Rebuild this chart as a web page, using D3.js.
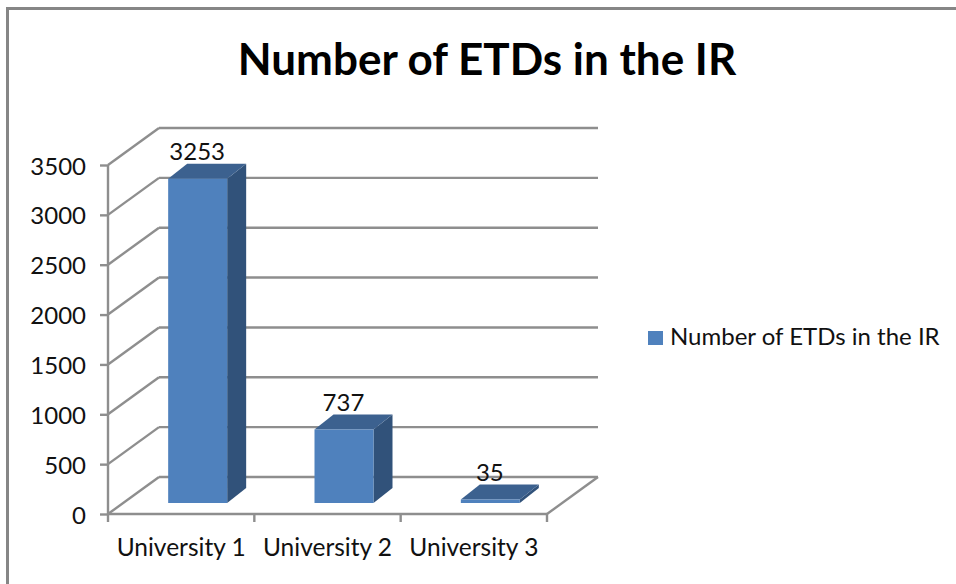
<!DOCTYPE html>
<html><head><meta charset="utf-8">
<script src="https://cdn.jsdelivr.net/npm/d3@7/dist/d3.min.js"></script>
<style>html,body{margin:0;padding:0;background:#fff}svg{display:block}text{font-family:Lato,"Open Sans",sans-serif;fill:#111}</style>
</head><body><script>
const categories = ["University 1","University 2","University 3"];
const values = [3253,737,35];
const seriesName = "Number of ETDs in the IR";
const yTicks = [0,500,1000,1500,2000,2500,3000,3500];
const title = "Number of ETDs in the IR";

const W=956,H=584, dx=51, dy=-37, bdx=19, bdy=-15, baseLift=11, barShift=16.5;
const grid="#8e8e8e", sw=2.4;
const svg=d3.select("body").append("svg").attr("width",W).attr("height",H);
svg.append("rect").attr("width",W).attr("height",H).attr("fill","#fff");
svg.append("path").attr("d",`M7.5,${H} V8.5 H${W}`).attr("fill","none").attr("stroke","#868686").attr("stroke-width",3);
svg.append("text").attr("x",487).attr("y",75).attr("text-anchor","middle").attr("font-size",44).attr("font-weight",700).attr("style","fill:#000").text(title);

const x=d3.scaleBand().domain(categories).range([108,547]).paddingInner(0).paddingOuter(0);
const y=d3.scaleLinear().domain([0,3500]).range([514,165]);

const g=svg.append("g").attr("fill","none").attr("stroke",grid).attr("stroke-width",sw);
yTicks.forEach(t=>{
  g.append("line").attr("x1",x.range()[0]).attr("x2",x.range()[0]+dx).attr("y1",y(t)).attr("y2",y(t)+dy);
  g.append("line").attr("x1",x.range()[0]+dx).attr("x2",x.range()[1]+dx).attr("y1",y(t)+dy).attr("y2",y(t)+dy);
});
g.append("line").attr("x1",x.range()[1]).attr("x2",x.range()[1]+dx).attr("y1",y(0)).attr("y2",y(0)+dy);

const yAxis=d3.axisLeft(y).tickValues(yTicks).tickSize(8).tickPadding(14).tickFormat(d3.format("d"));
const ya=svg.append("g").attr("transform",`translate(${x.range()[0]},0)`).call(yAxis);
const xAxis=d3.axisBottom(x).tickSize(8).tickPadding(12);
const xa=svg.append("g").attr("transform",`translate(0,${y(0)})`).call(xAxis);
[ya,xa].forEach(a=>{a.selectAll("path,line").attr("stroke",grid).attr("stroke-width",sw);a.select(".domain").attr("d",null);});
ya.append("line").attr("y1",y(3500)).attr("y2",y(0)).attr("stroke",grid).attr("stroke-width",sw);
xa.selectAll(".tick line").remove();
xa.append("line").attr("x1",x.range()[0]-1).attr("x2",x.range()[1]).attr("stroke",grid).attr("stroke-width",sw);
x.domain().concat(null).forEach((c,i)=>{
  const tx=x.range()[0]+i*x.bandwidth();
  xa.append("line").attr("x1",tx).attr("x2",tx).attr("y1",0).attr("y2",8).attr("stroke",grid).attr("stroke-width",sw);
});
ya.selectAll("text").attr("font-family","Lato").attr("font-size",24).attr("dy","0.38em");
xa.selectAll("text").attr("font-family","Lato").attr("font-size",24.5).attr("dy","0.9em");

const barW=59;
const b=svg.append("g");
categories.forEach((c,i)=>{
  const v=values[i];
  const x0=x(c)+x.bandwidth()/2-barW/2+barShift, x1=x0+barW;
  const yb=y(0)-baseLift, yt=y(v)-baseLift;
  b.append("path").attr("d",`M${x1},${yb} L${x1+bdx},${yb+bdy} L${x1+bdx},${yt+bdy} L${x1},${yt} Z`).attr("fill","#31527a");
  b.append("path").attr("d",`M${x0},${yt} L${x0+bdx},${yt+bdy} L${x1+bdx},${yt+bdy} L${x1},${yt} Z`).attr("fill","#3c618f");
  b.append("rect").attr("x",x0).attr("y",yt).attr("width",barW).attr("height",yb-yt).attr("fill","#4f81bd");
  svg.append("text").attr("x",x0+barW/2-0.5).attr("y",yt+bdy-4).attr("text-anchor","middle").attr("font-size",24).text(d3.format("d")(v));
});

svg.append("rect").attr("x",648).attr("y",331).attr("width",15).attr("height",14).attr("fill","#4f81bd");
svg.append("text").attr("x",670).attr("y",345).attr("font-size",24).text(seriesName);
</script></body></html>
